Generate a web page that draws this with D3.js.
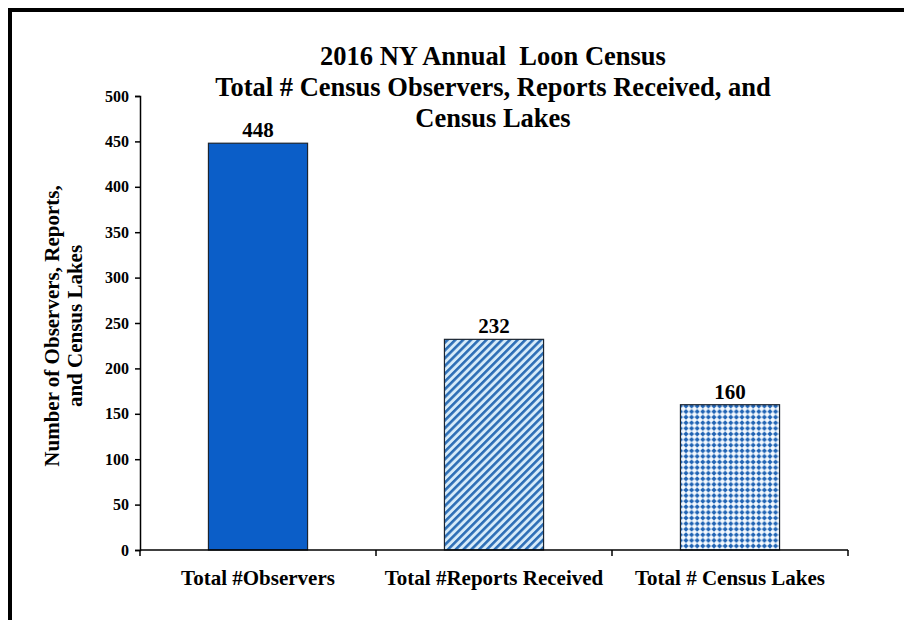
<!DOCTYPE html>
<html>
<head>
<meta charset="utf-8">
<script src="https://cdn.jsdelivr.net/npm/d3@7"></script>
<style>
  body { margin: 0; background: #fff; }
  text { font-family: "Liberation Serif", "Times New Roman", serif; font-weight: bold; fill: #000; }
</style>
</head>
<body>
<div id="chart"></div>
<script>
const width = 904;
const height = 620;

// données
const categories = ["Total #Observers", "Total #Reports Received", "Total # Census Lakes"];
const values = [448, 232, 160];
const yTicks = [0, 50, 100, 150, 200, 250, 300, 350, 400, 450, 500];
const titleLines = ["2016 NY Annual  Loon Census", "Total # Census Observers, Reports Received, and", "Census Lakes"];
const yLabelLines = ["Number of Observers, Reports,", "and Census Lakes"];

const plotLeft = 140, plotRight = 848, plotTop = 96, plotBottom = 550;

const svg = d3.create("svg")
    .attr("width", width)
    .attr("height", height);

// motifs de remplissage
const defs = svg.append("defs");
const hatch = defs.append("pattern")
    .attr("id", "hatch")
    .attr("patternUnits", "userSpaceOnUse")
    .attr("width", 5.5).attr("height", 5.5)
    .attr("patternTransform", "rotate(45)");
hatch.append("rect").attr("width", 5.5).attr("height", 5.5).attr("fill", "#d6ebf9");
hatch.append("rect").attr("width", 2.6).attr("height", 5.5).attr("fill", "#2b6db5");

const dots = defs.append("pattern")
    .attr("id", "dots")
    .attr("patternUnits", "userSpaceOnUse")
    .attr("width", 5.6).attr("height", 5.6);
dots.append("rect").attr("width", 5.6).attr("height", 5.6).attr("fill", "#f4f9fe");
dots.append("path")
    .attr("d", "M2.8,0.2 L5.4,2.8 L2.8,5.4 L0.2,2.8 Z")
    .attr("fill", "#1f63b4");

const fills = ["#0b5ec8", "url(#hatch)", "url(#dots)"];

// cadre
svg.append("rect")
    .attr("x", 10).attr("y", 10)
    .attr("width", 1000).attr("height", 1000)
    .attr("fill", "none")
    .attr("stroke", "#000")
    .attr("stroke-width", 4);

const x = d3.scaleBand()
    .domain(categories)
    .range([plotLeft, plotRight])
    .paddingInner(0.58)
    .paddingOuter(0.29);

const y = d3.scaleLinear()
    .domain([0, 500])
    .range([plotBottom, plotTop]);

// barres
svg.append("g")
  .selectAll("rect")
  .data(values)
  .join("rect")
    .attr("x", (d, i) => x(categories[i]))
    .attr("y", d => y(d))
    .attr("width", x.bandwidth())
    .attr("height", d => y(0) - y(d))
    .attr("fill", (d, i) => fills[i])
    .attr("stroke", "#1b2430")
    .attr("stroke-width", 1.2);

// étiquettes de valeurs
svg.append("g")
    .attr("text-anchor", "middle")
    .style("font-size", "21px")
  .selectAll("text")
  .data(values)
  .join("text")
    .attr("x", (d, i) => x(categories[i]) + x.bandwidth() / 2)
    .attr("y", d => y(d) - 6)
    .text(d => d);

// axe Y
const yAxis = svg.append("g")
    .attr("transform", `translate(${plotLeft},0)`)
    .call(d3.axisLeft(y).tickValues(yTicks).tickSize(5).tickPadding(6));
yAxis.select(".domain").attr("stroke", "#000").attr("stroke-width", 1.5);
yAxis.selectAll(".tick line").attr("stroke", "#000").attr("stroke-width", 1.5);
yAxis.selectAll(".tick text")
    .style("font-size", "16px")
    .style("font-family", "Liberation Serif, serif")
    .style("font-weight", "bold");

// axe X
const step = x.step();
const bounds = d3.range(categories.length + 1).map(i => plotLeft + i * step);
svg.append("line")
    .attr("x1", plotLeft).attr("x2", plotRight)
    .attr("y1", plotBottom).attr("y2", plotBottom)
    .attr("stroke", "#000").attr("stroke-width", 1.5);
svg.append("g")
  .selectAll("line")
  .data(bounds)
  .join("line")
    .attr("x1", d => d).attr("x2", d => d)
    .attr("y1", plotBottom).attr("y2", plotBottom + 6)
    .attr("stroke", "#000").attr("stroke-width", 1.5);

svg.append("g")
    .attr("text-anchor", "middle")
    .style("font-size", "21px")
  .selectAll("text")
  .data(categories)
  .join("text")
    .attr("x", d => x(d) + x.bandwidth() / 2)
    .attr("y", 585)
    .text(d => d);

// titre
svg.append("g")
    .attr("text-anchor", "middle")
    .style("font-size", "26.5px")
  .selectAll("text")
  .data(titleLines)
  .join("text")
    .attr("x", 493)
    .attr("y", (d, i) => 65 + i * 31)
    .attr("xml:space", "preserve")
    .style("white-space", "pre")
    .text(d => d);

// titre de l'axe Y
svg.append("g")
    .attr("text-anchor", "middle")
    .style("font-size", "21px")
  .selectAll("text")
  .data(yLabelLines)
  .join("text")
    .attr("transform", (d, i) => `translate(${59 + i * 23},326) rotate(-90)`)
    .text(d => d);

document.getElementById("chart").appendChild(svg.node());
</script>
</body>
</html>
